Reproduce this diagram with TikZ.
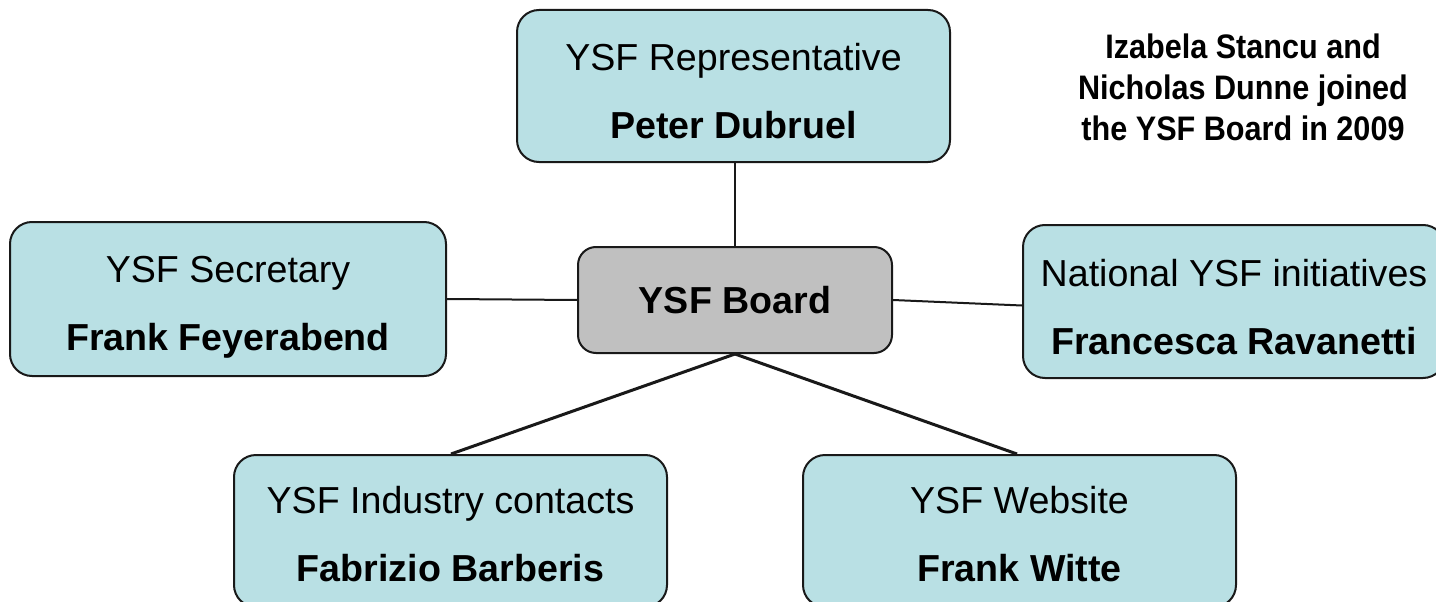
\documentclass[tikz,border=0pt]{standalone}
\usepackage{graphicx}
\usepackage{fontspec}
\setmainfont{Liberation Sans}
\definecolor{boxblue}{RGB}{185,224,228}
\definecolor{boardgray}{RGB}{192,192,192}
\definecolor{edge}{RGB}{25,25,25}
\newcommand\rolebox[3]{\rule{0pt}{#3pt}#1\\\smash{\bfseries #2}}
\begin{document}
\begin{tikzpicture}[x=1pt,y=-1pt,
  member/.style={draw=edge, line width=2pt, fill=boxblue, rounded corners=22pt,
    minimum width=433pt, minimum height=152pt, align=center, inner sep=0pt,
    font=\fontsize{37.6}{68}\selectfont},
  boardbox/.style={draw=edge, line width=2pt, fill=boardgray, rounded corners=18pt,
    minimum width=314pt, minimum height=106pt, inner sep=0pt,
    font=\bfseries\fontsize{37.6}{45}\selectfont},
  link/.style={draw=edge, line width=2pt},
  heavylink/.style={draw=edge, line width=3pt},
  notetext/.style={align=center, inner sep=0pt, font=\bfseries\fontsize{34}{41}\selectfont}
]
\useasboundingbox (0,0) rectangle (1436,602);
\clip (0,0) rectangle (1436,602);

\node[member] (rep) at (733.5,86) {\rolebox{YSF Representative}{Peter Dubruel}{37}};
\node[member, minimum width=436pt, minimum height=154pt] (sec) at (228,299) {\rolebox{YSF Secretary}{Frank Feyerabend}{35}};
\node[member, minimum width=422pt, minimum height=153pt] (nat) at (1234,301.5) {\rolebox{National YSF initiatives}{Francesca Ravanetti}{38}};
\node[member] (ind) at (450.5,531) {\rolebox{YSF Industry contacts}{Fabrizio Barberis}{33}};
\node[member] (web) at (1019.5,531) {\rolebox{YSF Website}{Frank Witte}{33}};
\node[boardbox] (board) at (735,300) {YSF Board};

\draw[link] (board.north) -- (board.north |- rep.south);
\draw[link] (sec.east) -- (board.west);
\draw[link] (board.east) -- ([yshift=-4pt]nat.west);
\draw[heavylink] (board.south) -- ([xshift=218pt]ind.north west);
\draw[heavylink] (board.south) -- ([xshift=215pt]web.north west);

\node[notetext] (note) at (1243,87) {\scalebox{0.9}[1]{Izabela Stancu and}\\\scalebox{0.9}[1]{Nicholas Dunne joined}\\\scalebox{0.9}[1]{the YSF Board in 2009}};
\end{tikzpicture}
\end{document}
